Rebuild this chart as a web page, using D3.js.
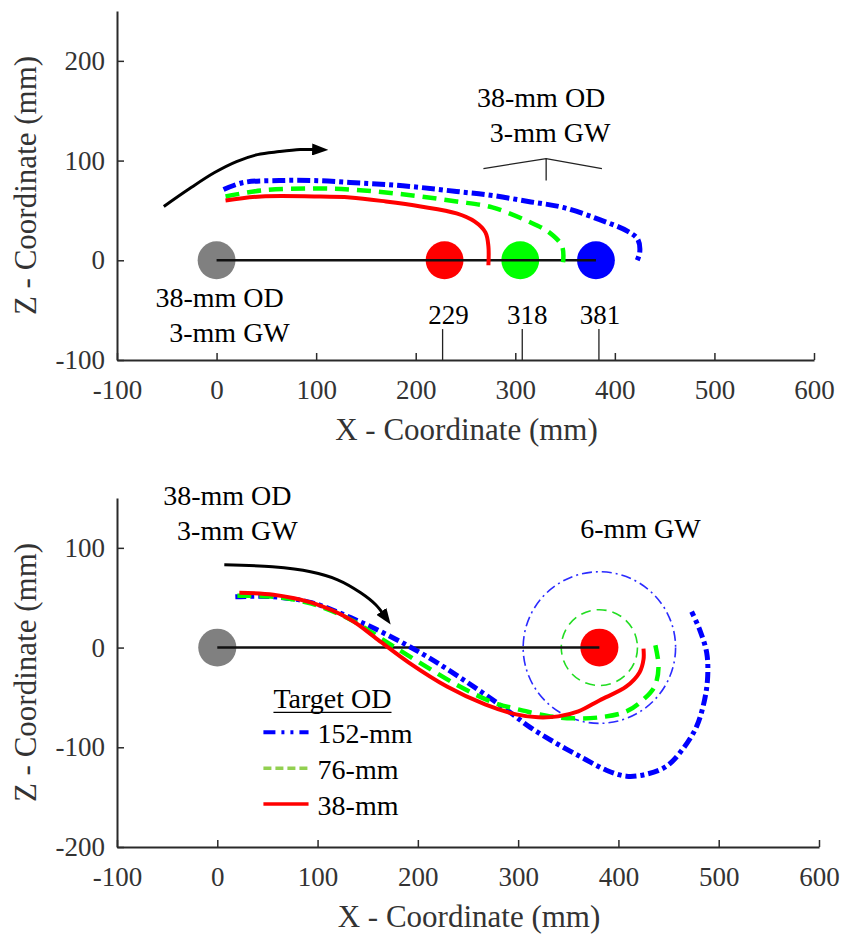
<!DOCTYPE html>
<html>
<head>
<meta charset="utf-8">
<script src="https://cdn.jsdelivr.net/npm/d3@7"></script>
<style>
  body { margin: 0; background: #fff; }
  svg { display: block; }
  text { font-family: "Liberation Serif", "Times New Roman", serif; }
</style>
</head>
<body>
<div id="chart"></div>
<script>
// ---- data (mm) ----
var xTicks = [-100, 0, 100, 200, 300, 400, 500, 600];
var yTicksTop = [-100, 0, 100, 200];
var yTicksBottom = [-200, -100, 0, 100];

var sphereOD = 38;
var launchX = 0;
var topTargetX = [229, 305, 381];
var topTargetColors = ["#ff0000", "#00ff00", "#0000ff"];
var distLabels = ["229", "318", "381"];
var distLabelX = [233, 312, 385];
var distLeaderX = [227, 307, 384];

// top panel trajectories (different target distances)
var topBlue = [[7,71],[27,78],[63,80],[98,80],[134,78],[170,76],[205,73],[241,69],[277,65],[313,59],[348,53],[384,41],[413,29],[423,21],[425,8],[422,-1]];
var topGreen = [[9,64],[45,70],[98,72],[134,71],[170,68],[205,64],[241,59],[277,53],[313,39],[334,28],[347,14],[348,-2]];
var topRed = [[9,60],[45,64],[98,64],[134,63],[170,59],[205,54],[241,47],[259,39],[270,28],[273,14],[273,-5]];
var topArrow = [[-53,54],[-27,72],[-2,88],[20,99],[41,106],[63,109],[84,111],[100,111]];

// bottom panel
var bottomTargetX = 381;
var ringOD = [152, 76];
var bottomBlue = [[18,51],[56,51],[94,45],[133,30],[171,12],[209,-9],[248,-34],[288,-62],[312,-80],[338,-96],[365,-111],[388,-123],[408,-129],[428,-127],[448,-119],[464,-102],[478,-79],[486,-52],[489,-29],[488,-5],[481,18],[473,36]];
var bottomGreen = [[20,52],[56,51],[94,44],[133,28],[165,8],[200,-14],[240,-38],[275,-55],[300,-62],[332,-69],[355,-71],[381,-70],[408,-64],[425,-52],[436,-39],[440,-19],[436,6]];
var bottomRed = [[22,55],[56,53],[94,45],[133,28],[160,8],[191,-15],[229,-39],[267,-57],[298,-67],[320,-70],[340,-69],[360,-64],[381,-53],[408,-39],[421,-25],[425,-12],[425,-1]];
var bottomArrow = [[7,83],[55,81],[93,76],[120,68],[143,55],[158,43],[166,33]];

var legendTitle = "Target OD";
var legendLabels = ["152-mm", "76-mm", "38-mm"];

// ---- drawing ----
var W = 842, H = 935;
var svg = d3.select("#chart").append("svg").attr("width", W).attr("height", H);

var axisColor = "#2a2a2a";
var fontTick = 27, fontTitle = 31, fontNote = 28;

svg.append("defs").append("marker")
    .attr("id", "head")
    .attr("viewBox", "0 0 16 12")
    .attr("markerUnits", "userSpaceOnUse")
    .attr("markerWidth", 16).attr("markerHeight", 12)
    .attr("refX", 4).attr("refY", 6)
    .attr("orient", "auto")
  .append("path")
    .attr("d", "M0,0 L16,6 L0,12 z")
    .attr("fill", "#000");

var styles = {
  blue:  { color: "#0000ff", width: 5,   dash: "13,4,4,4" },
  green: { color: "#00ff00", width: 4.5, dash: "14,8" },
  red:   { color: "#ff0000", width: 4,   dash: null }
};

// plain hyphen for negatives, like the original figure
var fmt = function(d) { return String(d); };

function drawAxes(g, x, y, yTicks) {
  var y0 = y.range()[0];
  g.append("g")
    .attr("transform", "translate(0," + y0 + ")")
    .call(d3.axisBottom(x).tickValues(xTicks).tickFormat(fmt).tickSizeInner(-7).tickSizeOuter(0).tickPadding(20))
    .call(styleAxis);
  g.append("g")
    .attr("transform", "translate(" + x.range()[0] + ",0)")
    .call(d3.axisLeft(y).tickValues(yTicks).tickFormat(fmt).tickSizeInner(-7).tickSizeOuter(0).tickPadding(12))
    .call(styleAxis);

  g.append("text")
    .attr("x", (x.range()[0] + x.range()[1]) / 2 + 1)
    .attr("y", y0 + 80)
    .attr("text-anchor", "middle")
    .attr("fill", "#333")
    .style("font-size", fontTitle + "px")
    .text("X - Coordinate (mm)");

  g.append("text")
    .attr("transform", "translate(36," + (y.range()[0] + y.range()[1]) / 2 + ") rotate(-90)")
    .attr("text-anchor", "middle")
    .attr("fill", "#333")
    .style("font-size", fontTitle + "px")
    .text("Z - Coordinate (mm)");
}

function styleAxis(sel) {
  sel.select(".domain").attr("stroke", axisColor).attr("stroke-width", 2);
  sel.selectAll(".tick line").attr("stroke", axisColor).attr("stroke-width", 1.5);
  sel.selectAll(".tick text")
    .attr("fill", "#333")
    .style("font-size", fontTick + "px")
    .style("font-family", '"Liberation Serif", "Times New Roman", serif');
}

function drawPath(g, line, data, st) {
  g.append("path")
    .attr("d", line(data))
    .attr("fill", "none")
    .attr("stroke", st.color)
    .attr("stroke-width", st.width)
    .attr("stroke-dasharray", st.dash);
}

function note(g, x, y, px, py, str, size) {
  g.append("text")
    .attr("x", x(px)).attr("y", y(py))
    .attr("text-anchor", "middle")
    .attr("fill", "#000")
    .style("font-size", (size || fontNote) + "px")
    .text(str);
}

// ===== top panel =====
var xT = d3.scaleLinear().domain([-100, 600]).range([117, 814]);
var yT = d3.scaleLinear().domain([-100, 250]).range([360, 11]);
var gT = svg.append("g");
var lineT = d3.line().x(function(d) { return xT(d[0]); }).y(function(d) { return yT(d[1]); })
  .curve(d3.curveCatmullRom.alpha(0.5));

var rxT = xT(sphereOD / 2) - xT(0), ryT = yT(0) - yT(sphereOD / 2);
gT.append("ellipse")
  .attr("cx", xT(launchX)).attr("cy", yT(0)).attr("rx", rxT).attr("ry", ryT)
  .attr("fill", "#808080");
gT.selectAll(".tgt").data(topTargetX).enter().append("ellipse")
  .attr("cx", function(d) { return xT(d); }).attr("cy", yT(0))
  .attr("rx", rxT).attr("ry", ryT)
  .attr("fill", function(d, i) { return topTargetColors[i]; });
gT.append("line")
  .attr("x1", xT(launchX)).attr("x2", xT(topTargetX[2]))
  .attr("y1", yT(0)).attr("y2", yT(0))
  .attr("stroke", "#111").attr("stroke-width", 2.5);

drawPath(gT, lineT, topBlue, styles.blue);
drawPath(gT, lineT, topGreen, styles.green);
drawPath(gT, lineT, topRed, styles.red);

gT.append("path")
  .attr("d", lineT(topArrow))
  .attr("fill", "none").attr("stroke", "#000").attr("stroke-width", 3)
  .attr("marker-end", "url(#head)");

// distance labels and leaders
distLabels.forEach(function(s, i) {
  note(gT, xT, yT, distLabelX[i], -64, s, 27);
  gT.append("line")
    .attr("x1", xT(distLeaderX[i])).attr("x2", xT(distLeaderX[i]))
    .attr("y1", yT(-69)).attr("y2", yT(-100))
    .attr("stroke", "#222").attr("stroke-width", 1.3);
});

note(gT, xT, yT, 3, -47, "38-mm OD");
note(gT, xT, yT, 13, -82, "3-mm GW");
note(gT, xT, yT, 326, 154, "38-mm OD");
note(gT, xT, yT, 335, 119, "3-mm GW");

var bracket = [[268, 92], [331, 102], [387, 92]];
gT.append("path")
  .attr("d", d3.line().x(function(d) { return xT(d[0]); }).y(function(d) { return yT(d[1]); })(bracket))
  .attr("fill", "none").attr("stroke", "#222").attr("stroke-width", 1.3);
gT.append("line")
  .attr("x1", xT(331)).attr("x2", xT(331)).attr("y1", yT(102)).attr("y2", yT(80))
  .attr("stroke", "#222").attr("stroke-width", 1.3);

drawAxes(gT, xT, yT, yTicksTop);

// ===== bottom panel =====
var xB = d3.scaleLinear().domain([-100, 600]).range([117, 819]);
var yB = d3.scaleLinear().domain([-200, 150]).range([847, 498]);
var gB = svg.append("g");
var lineB = d3.line().x(function(d) { return xB(d[0]); }).y(function(d) { return yB(d[1]); })
  .curve(d3.curveCatmullRom.alpha(0.5));

var rxB = xB(sphereOD / 2) - xB(0), ryB = yB(0) - yB(sphereOD / 2);
gB.append("ellipse")
  .attr("cx", xB(launchX)).attr("cy", yB(0)).attr("rx", rxB).attr("ry", ryB)
  .attr("fill", "#808080");
gB.append("ellipse")
  .attr("cx", xB(bottomTargetX)).attr("cy", yB(0)).attr("rx", rxB).attr("ry", ryB)
  .attr("fill", "#ff0000");

var ringStyles = [
  { color: "#2b2bff", width: 1.6, dash: "10,4,2,4" },
  { color: "#22dd22", width: 1.6, dash: "10,6" }
];
ringOD.forEach(function(od, i) {
  gB.append("ellipse")
    .attr("cx", xB(bottomTargetX)).attr("cy", yB(0))
    .attr("rx", xB(od / 2) - xB(0)).attr("ry", yB(0) - yB(od / 2))
    .attr("fill", "none")
    .attr("stroke", ringStyles[i].color)
    .attr("stroke-width", ringStyles[i].width)
    .attr("stroke-dasharray", ringStyles[i].dash);
});

gB.append("line")
  .attr("x1", xB(launchX)).attr("x2", xB(bottomTargetX))
  .attr("y1", yB(0)).attr("y2", yB(0))
  .attr("stroke", "#111").attr("stroke-width", 2.5);

drawPath(gB, lineB, bottomBlue, { color: "#0000ff", width: 5, dash: "11,4,4,4" });
drawPath(gB, lineB, bottomGreen, styles.green);
drawPath(gB, lineB, bottomRed, styles.red);

gB.append("path")
  .attr("d", lineB(bottomArrow))
  .attr("fill", "none").attr("stroke", "#000").attr("stroke-width", 3)
  .attr("marker-end", "url(#head)");

note(gB, xB, yB, 10, 143, "38-mm OD");
note(gB, xB, yB, 20, 108, "3-mm GW");
note(gB, xB, yB, 422, 110, "6-mm GW");

// legend
var legX0 = 46, legX1 = 91, legTextX = 100;
var legRowY = [-85, -121, -157];
var legStyles = [
  { color: "#0000ff", width: 4, dash: "12,6,3,6,3,6" },
  { color: "#92d050", width: 3.5, dash: "8,4" },
  { color: "#ff0000", width: 3.5, dash: null }
];
var titleEl = gB.append("text")
  .attr("x", xB(56)).attr("y", yB(-61))
  .attr("fill", "#000")
  .style("font-size", fontNote + "px")
  .text(legendTitle);
var tb = titleEl.node().getComputedTextLength();
gB.append("line")
  .attr("x1", xB(56)).attr("x2", xB(56) + tb)
  .attr("y1", yB(-61) + 4).attr("y2", yB(-61) + 4)
  .attr("stroke", "#000").attr("stroke-width", 1.3);

legendLabels.forEach(function(s, i) {
  gB.append("line")
    .attr("x1", xB(legX0)).attr("x2", xB(legX1))
    .attr("y1", yB(legRowY[i])).attr("y2", yB(legRowY[i]))
    .attr("stroke", legStyles[i].color)
    .attr("stroke-width", legStyles[i].width)
    .attr("stroke-dasharray", legStyles[i].dash);
  gB.append("text")
    .attr("x", xB(legTextX)).attr("y", yB(legRowY[i]) + 11)
    .attr("fill", "#000")
    .style("font-size", fontNote + "px")
    .text(s);
});

drawAxes(gB, xB, yB, yTicksBottom);
</script>
</body>
</html>
